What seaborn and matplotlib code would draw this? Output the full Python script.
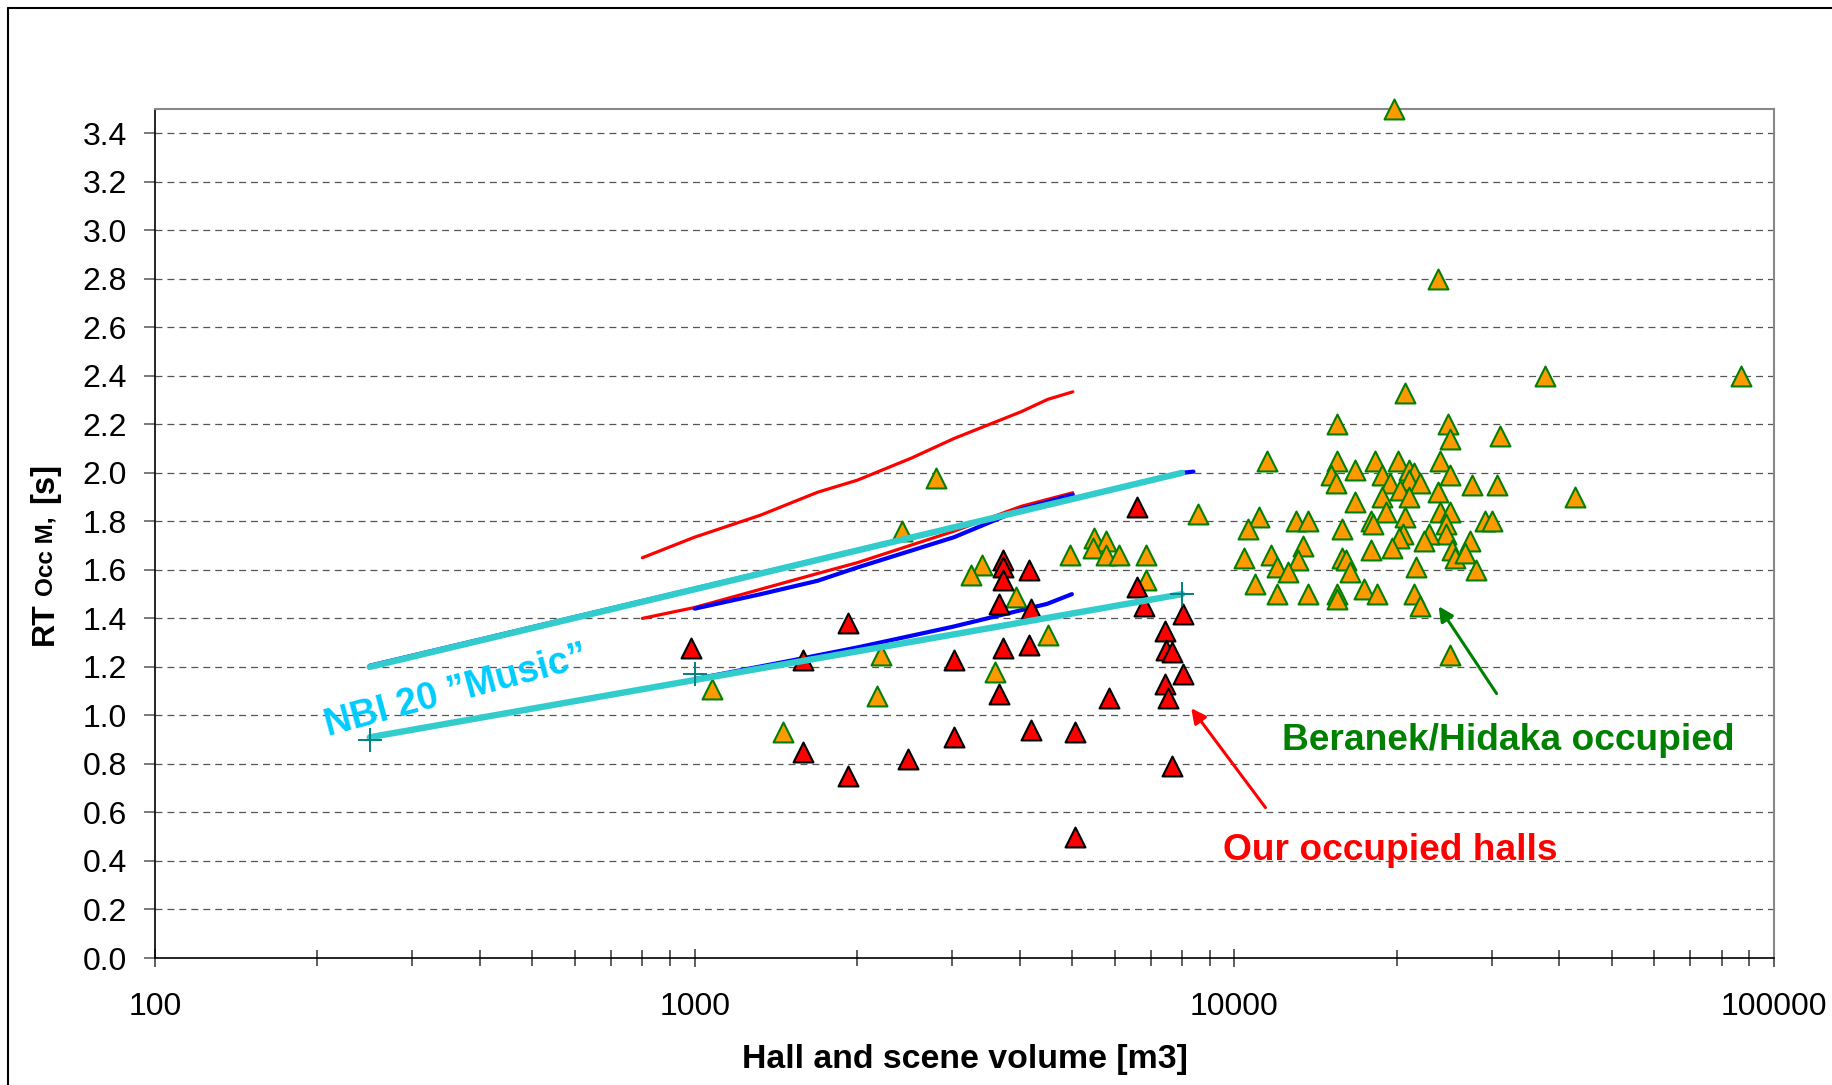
import matplotlib
matplotlib.use("Agg")
import matplotlib.pyplot as plt
import matplotlib.ticker as mticker
from matplotlib.lines import Line2D
import numpy as np
import pandas as pd
import seaborn as sns

# ---------------- data ----------------
# Our occupied halls (volume m3, RT s)
our_vol = [983, 1926, 1585, 3020, 3730, 3730, 3730, 3664, 4170, 4200, 3730, 4170,
           3664, 5860, 6607, 6607, 6790, 8035, 7445, 7480, 7670, 8035, 7445, 7520,
           7670, 3020, 4200, 5060, 1585, 2486, 1926, 5060]
our_rt = [1.28, 1.38, 1.23, 1.23, 1.64, 1.61, 1.56, 1.46, 1.60, 1.44, 1.28, 1.29,
          1.09, 1.07, 1.86, 1.53, 1.45, 1.42, 1.35, 1.27, 1.26, 1.17, 1.13, 1.07,
          0.79, 0.91, 0.94, 0.93, 0.85, 0.82, 0.75, 0.50]

# Beranek/Hidaka occupied
ber_vol = [2806, 2422, 3402, 3253, 3940, 4520, 3600, 2213, 1076, 2173, 1459, 4970,
           5504, 5790, 5480, 5790, 6107, 6850, 6850,
           37700, 87000, 20700, 15500, 24900, 25100, 31000, 11500, 15500, 18200,
           20100, 24100, 15100, 16700, 15400, 18800, 19400, 21100, 21500, 21100,
           22100, 25100, 27600, 30700, 20300, 23800, 16700, 18800, 21100, 42800,
           19100, 24100, 25100, 8550, 11100, 10600, 13000, 13700, 15800, 17900,
           18100, 20700, 24700, 29100, 30000, 24700, 20500, 20200, 22900, 22500,
           27300, 13400, 19600, 25300, 17900, 10400, 11700, 13100, 15800, 16100,
           25600, 26800, 12000, 12600, 16400, 21700, 28000, 10900, 12000, 13700,
           15500, 15500, 17400, 18400, 21500, 22100, 25100, 19800, 23800]
ber_rt = [1.98, 1.76, 1.62, 1.58, 1.49, 1.33, 1.18, 1.25, 1.11, 1.08, 0.93, 1.66,
          1.73, 1.72, 1.69, 1.66, 1.66, 1.66, 1.56,
          2.40, 2.40, 2.33, 2.20, 2.20, 2.14, 2.15, 2.05, 2.05, 2.05,
          2.05, 2.05, 1.99, 2.01, 1.96, 1.99, 1.96, 2.01, 2.00, 1.97,
          1.96, 1.99, 1.95, 1.95, 1.93, 1.92, 1.88, 1.90, 1.90, 1.90,
          1.84, 1.84, 1.84, 1.83, 1.82, 1.77, 1.80, 1.80, 1.77, 1.80,
          1.79, 1.82, 1.79, 1.80, 1.80, 1.75, 1.75, 1.73, 1.75, 1.72,
          1.72, 1.70, 1.69, 1.68, 1.68, 1.65, 1.66, 1.64, 1.65, 1.64,
          1.65, 1.67, 1.61, 1.59, 1.59, 1.61, 1.60, 1.54, 1.50, 1.50,
          1.50, 1.48, 1.52, 1.50, 1.50, 1.45, 1.25, 3.50, 2.80]

# NBI 20 "Music" limits
nbi_vol = [250, 8000]
nbi_upper_rt = [1.20, 2.00]
nbi_lower_rt = [0.91, 1.50]
nbi_cross_vol = [250, 1000, 8000]
nbi_cross_rt = [0.90, 1.17, 1.50]

# blue limit curves
blue_upper_vol = [250, 8000, 8400]
blue_upper_rt = [1.205, 2.00, 2.005]
blue_mid_vol = [1000, 1326, 1689, 2003, 3027, 4027, 5020]
blue_mid_rt = [1.44, 1.50, 1.555, 1.61, 1.735, 1.85, 1.91]
blue_low_vol = [1000, 1500, 2000, 3000, 4500, 5000]
blue_low_rt = [1.15, 1.225, 1.28, 1.365, 1.46, 1.50]

# red limit curves
red_upper_vol = [800, 1000, 1326, 1689, 2003, 2516, 3027, 4027, 4510, 5020]
red_upper_rt = [1.65, 1.735, 1.826, 1.92, 1.97, 2.06, 2.142, 2.252, 2.303, 2.334]
red_lower_vol = [800, 1000, 1689, 2003, 3027, 4027, 5020]
red_lower_rt = [1.40, 1.445, 1.585, 1.63, 1.76, 1.862, 1.918]

x_ticks = [100, 1000, 10000, 100000]
y_ticks = [round(0.2 * i, 1) for i in range(18)]

# ---------------- style ----------------
sns.set_theme(style="white")
plt.rcParams["font.family"] = ["Liberation Sans", "DejaVu Sans"]
plt.rcParams["lines.scale_dashes"] = False

W, H = 1832, 1085
fig = plt.figure(figsize=(W / 100, H / 100), dpi=100)
ax = fig.add_axes([155 / W, 1 - 958 / H, (1774 - 155) / W, (958 - 109) / H])

ax.set_xscale("log")
ax.set_xlim(100, 100000)
ax.set_ylim(0, 3.5)

# grid
for yv in y_ticks[1:]:
    ax.axhline(yv, color="#555555", lw=0.9, ls=(0, (5, 3.6)), zorder=0.5)

# limit curves beneath markers
def line(xv, yv, color, lw, z):
    sns.lineplot(x=xv, y=yv, color=color, linewidth=lw, estimator=None,
                 sort=False, ax=ax, zorder=z, legend=False)

line(red_upper_vol, red_upper_rt, "#FF0000", 2.3, 2)
line(red_lower_vol, red_lower_rt, "#FF0000", 2.3, 2)
line(blue_upper_vol, blue_upper_rt, "#0000FF", 3.0, 2.1)
line(blue_mid_vol, blue_mid_rt, "#0000FF", 3.0, 2.1)
line(blue_low_vol, blue_low_rt, "#0000FF", 3.0, 2.1)

sns.scatterplot(x=ber_vol, y=ber_rt, marker="^", s=205, color="#FF9900",
                edgecolor="#008000", linewidth=1.5, ax=ax, zorder=3, legend=False,
                clip_on=False)
sns.scatterplot(x=our_vol, y=our_rt, marker="^", s=205, color="#FF0000",
                edgecolor="black", linewidth=1.5, ax=ax, zorder=3.2, legend=False,
                clip_on=False)

line(nbi_vol, nbi_upper_rt, "#33CCCC", 4.6, 4)
line(nbi_vol, nbi_lower_rt, "#33CCCC", 4.6, 4)
sns.scatterplot(x=nbi_cross_vol, y=nbi_cross_rt, marker="+", s=280,
                color="#008080", linewidth=1.4, ax=ax, zorder=4.5, legend=False)

# axes formatting
ax.set_xticks(x_ticks)
ax.xaxis.set_major_formatter(mticker.FuncFormatter(lambda v, p: f"{v:.0f}"))
ax.xaxis.set_minor_locator(mticker.LogLocator(base=10, subs=np.arange(2, 10)))
ax.xaxis.set_minor_formatter(mticker.NullFormatter())
ax.set_yticks(y_ticks)
ax.yaxis.set_major_formatter(mticker.FuncFormatter(lambda v, p: f"{v:.1f}"))

ax.tick_params(axis="x", which="major", direction="inout", length=13, width=1.1,
               color="#333333", labelsize=23, pad=18, bottom=True)
ax.tick_params(axis="x", which="minor", direction="inout", length=12, width=1.1,
               color="#333333", bottom=True)
ax.tick_params(axis="y", which="major", direction="out", length=8, width=1.1,
               color="#555555", labelsize=23, pad=12, left=True)
for lab in ax.get_xticklabels() + ax.get_yticklabels():
    lab.set_color("black")

for side in ["left", "bottom"]:
    ax.spines[side].set_color("black")
    ax.spines[side].set_linewidth(1.2)
for side in ["top", "right"]:
    ax.spines[side].set_color("#888888")
    ax.spines[side].set_linewidth(1.5)

ax.set_xlabel("Hall and scene volume [m3]", fontsize=24.4, fontweight="bold",
              labelpad=16, color="black")
ax.set_ylabel("")

# annotations
ax.text(362, 1.10, "NBI 20 \u201dMusic\u201d", color="#00CCFF", fontsize=27,
        fontweight="bold", rotation=15, rotation_mode="anchor",
        ha="center", va="center", zorder=6)
ax.text(19460, 0.443, "Our occupied halls", color="#FF0000", fontsize=26.7,
        fontweight="bold", ha="center", va="center", zorder=6)
ax.text(32220, 0.896, "Beranek/Hidaka occupied", color="#008000", fontsize=26.7,
        fontweight="bold", ha="center", va="center", zorder=6)
ax.annotate("", xy=(8320, 1.03), xytext=(11420, 0.62),
            arrowprops=dict(arrowstyle="-|>", color="#FF0000", lw=2.2,
                            mutation_scale=22, shrinkA=0, shrinkB=0), zorder=6)
ax.annotate("", xy=(23910, 1.45), xytext=(30620, 1.09),
            arrowprops=dict(arrowstyle="-|>", color="#008000", lw=2.2,
                            mutation_scale=22, shrinkA=0, shrinkB=0), zorder=6)

# y label composed of pieces (RT, small "Occ M,", [s])
fig.canvas.draw()
renderer = fig.canvas.get_renderer()
ypos = 645
pieces = [("RT", 23, 6), ("Occ M,", 17.5, 14), ("[s]", 23.5, 0)]
for txt, fs, gap in pieces:
    t = fig.text(53 / W, 1 - ypos / H, txt, rotation=90, rotation_mode="anchor",
                 ha="left", va="baseline", fontsize=fs, fontweight="bold",
                 color="black")
    ext = t.get_window_extent(renderer)
    ypos -= ext.height + gap

# outer frame of the picture
fig.add_artist(Line2D([8 / W, 8 / W], [0, 1 - 8 / H], transform=fig.transFigure,
                      color="black", lw=1.5))
fig.add_artist(Line2D([8 / W, 1], [1 - 8 / H, 1 - 8 / H], transform=fig.transFigure,
                      color="black", lw=1.5))

fig.savefig("out.png", dpi=100, facecolor="white")
